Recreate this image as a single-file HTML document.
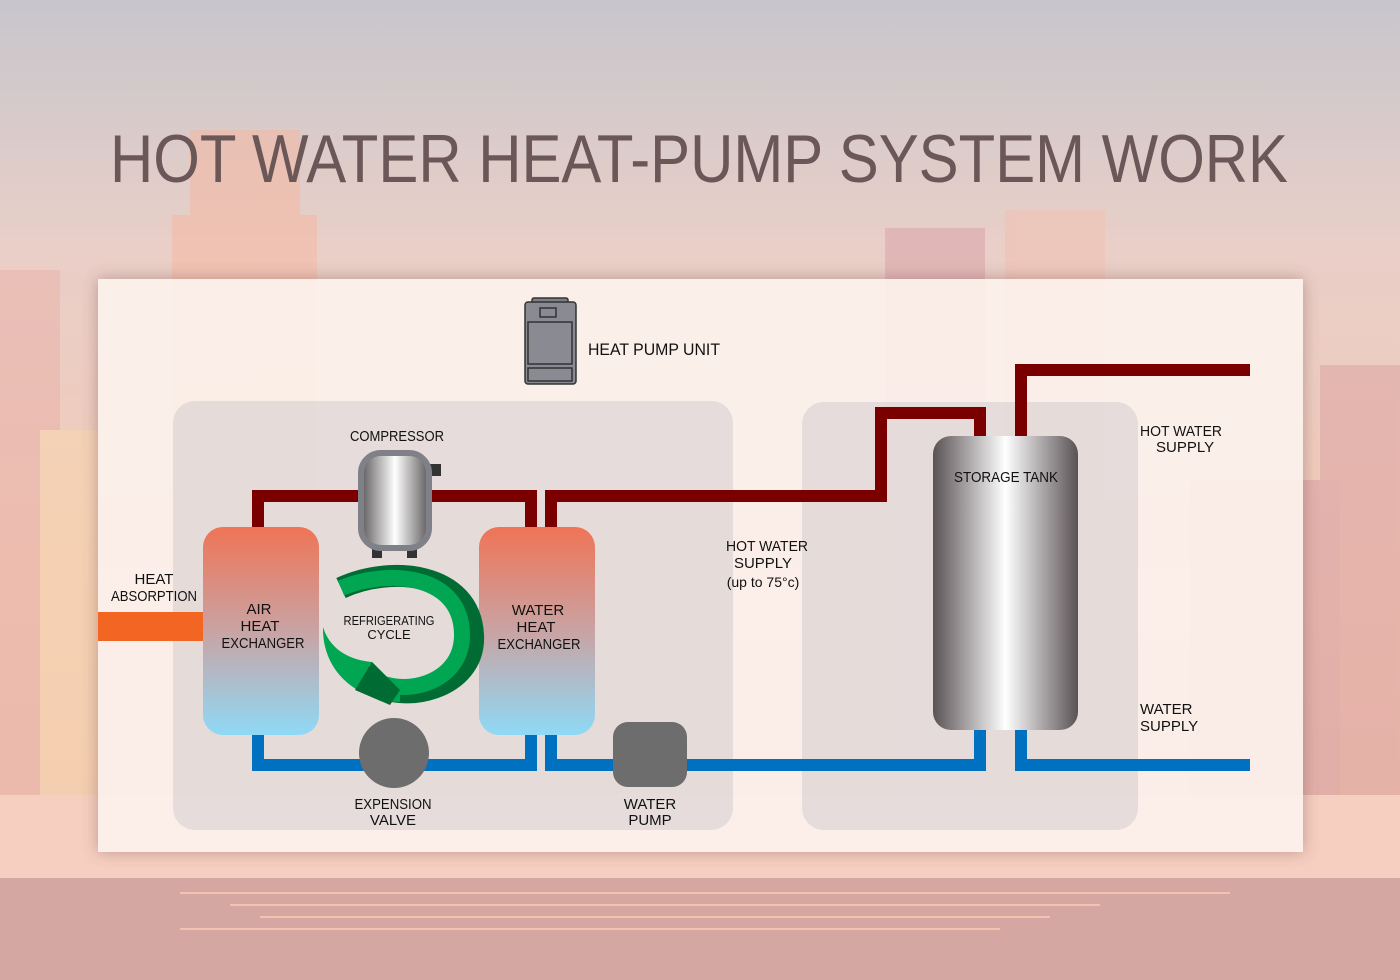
<!DOCTYPE html>
<html><head><meta charset="utf-8"><style>
html,body{margin:0;padding:0;width:1400px;height:980px;overflow:hidden}
svg{display:block}
text{font-family:"Liberation Sans",sans-serif;fill:#111}
</style></head><body>
<svg width="1400" height="980" viewBox="0 0 1400 980" xmlns="http://www.w3.org/2000/svg">
<defs>
<linearGradient id="bg" x1="0" y1="0" x2="0" y2="1">
<stop offset="0" stop-color="#c7c6cc"/><stop offset="0.25" stop-color="#e9cfc8"/><stop offset="0.6" stop-color="#f3c9b6"/><stop offset="0.85" stop-color="#f0c4b0"/><stop offset="1" stop-color="#e8b8a8"/>
</linearGradient>
<linearGradient id="hx" x1="0" y1="0" x2="0" y2="1">
<stop offset="0" stop-color="#ef7456"/><stop offset="0.5" stop-color="#c9a3a3"/><stop offset="1" stop-color="#8fd9f6"/>
</linearGradient>
<linearGradient id="metal" x1="0" y1="0" x2="1" y2="0">
<stop offset="0" stop-color="#5e5a5c"/><stop offset="0.5" stop-color="#ffffff"/><stop offset="1" stop-color="#5e5a5c"/>
</linearGradient>
<linearGradient id="metal2" x1="0" y1="0" x2="1" y2="0">
<stop offset="0" stop-color="#5a5255"/><stop offset="0.5" stop-color="#fff"/><stop offset="1" stop-color="#5a5255"/>
</linearGradient>
<filter id="sh" x="-5%" y="-5%" width="110%" height="110%"><feDropShadow dx="0" dy="0" stdDeviation="8" flood-color="#7a5050" flood-opacity="0.5"/></filter>
</defs>
<rect width="1400" height="980" fill="url(#bg)"/>
<g opacity="0.5">
<rect x="172" y="215" width="145" height="590" fill="#f6b79f"/>
<rect x="190" y="130" width="110" height="90" fill="#f6b79f"/>
<rect x="0" y="270" width="60" height="540" fill="#e9b0a8"/>
<rect x="40" y="430" width="60" height="380" fill="#f9d8b0"/>
<rect x="885" y="228" width="100" height="580" fill="#d9a0a5"/>
<rect x="1005" y="210" width="100" height="600" fill="#f2bfb0"/>
<rect x="1320" y="365" width="80" height="440" fill="#dba0a0"/>
<rect x="1190" y="480" width="150" height="330" fill="#d59aa0"/>
</g>
<rect x="0" y="795" width="1400" height="85" fill="#f6cfc0"/>
<rect x="0" y="878" width="1400" height="102" fill="#d5a7a3"/>
<g stroke="#f3c3b0" stroke-width="2">
<line x1="180" y1="893" x2="1230" y2="893"/><line x1="230" y1="905" x2="1100" y2="905"/><line x1="260" y1="917" x2="1050" y2="917"/><line x1="180" y1="929" x2="1000" y2="929"/>
</g>
<text x="110" y="182" font-size="68" textLength="1178" lengthAdjust="spacingAndGlyphs" style="fill:#6b5757;font-weight:300">HOT WATER HEAT-PUMP SYSTEM WORK</text>
<rect x="98" y="279" width="1205" height="573" fill="#fdf3ee" opacity="0.9" filter="url(#sh)"/>
<rect x="173" y="401" width="560" height="429" rx="22" fill="#dcd4d4" opacity="0.7"/>
<rect x="802" y="402" width="336" height="428" rx="22" fill="#dcd4d4" opacity="0.7"/>
<g stroke="#333" stroke-width="1.5">
<rect x="532" y="298" width="36" height="6" rx="2" fill="#7e7e86"/>
<rect x="525" y="302" width="51" height="82" rx="3" fill="#8a8a92"/>
<rect x="528" y="322" width="44" height="42" fill="#8a8a92"/>
<rect x="528" y="368" width="44" height="13" fill="#8a8a92"/>
<rect x="540" y="308" width="16" height="9" fill="#8a8a92"/>
</g>
<text x="588" y="355" font-size="17" textLength="132" lengthAdjust="spacingAndGlyphs">HEAT PUMP UNIT</text>
<g fill="none" stroke="#7a0000" stroke-width="12">
<path d="M258,528 V496 H365"/>
<path d="M425,496 H531 V528"/>
<path d="M551,528 V496 H881 V413 H980 V438"/>
<path d="M1021,438 V370 H1250"/>
</g>
<g fill="none" stroke="#0070c0" stroke-width="12">
<path d="M258,733 V765 H531 V733"/>
<path d="M551,733 V765 H980 V728"/>
<path d="M1021,728 V765 H1250"/>
</g>
<rect x="98" y="612" width="106" height="29" fill="#f26522"/>
<g font-size="15" text-anchor="middle">
<text x="154" y="584">HEAT</text>
<text x="154" y="601" textLength="86" lengthAdjust="spacingAndGlyphs">ABSORPTION</text>
</g>
<rect x="203" y="527" width="116" height="208" rx="20" fill="url(#hx)"/>
<rect x="479" y="527" width="116" height="208" rx="20" fill="url(#hx)"/>
<g font-size="15" text-anchor="middle">
<text x="259" y="614">AIR</text><text x="260" y="631">HEAT</text><text x="263" y="648" textLength="83" lengthAdjust="spacingAndGlyphs">EXCHANGER</text>
<text x="538" y="615">WATER</text><text x="536" y="632">HEAT</text><text x="539" y="649" textLength="83" lengthAdjust="spacingAndGlyphs">EXCHANGER</text>
</g>
<rect x="372" y="546" width="10" height="12" fill="#333"/>
<rect x="407" y="546" width="10" height="12" fill="#333"/>
<rect x="429" y="464" width="12" height="12" fill="#333"/>
<rect x="361" y="453" width="68" height="95" rx="20" fill="url(#metal)" stroke="#808088" stroke-width="6"/>
<text x="397" y="441" font-size="15" text-anchor="middle" textLength="94" lengthAdjust="spacingAndGlyphs">COMPRESSOR</text>
<path d="M341,588 C390,565 470,572 473,635 C476,690 400,705 372,682" fill="none" stroke="#006b32" stroke-width="22"/>
<path d="M341,588 C390,568 462,575 462,635 C462,685 400,698 372,678" fill="none" stroke="#00a651" stroke-width="16"/>
<path d="M323,627 C322,670 355,700 400,702 L400,690 L372,662 C350,660 330,650 323,627 Z" fill="#00a651"/>
<path d="M372,662 L400,690 L390,705 L355,690 Z" fill="#006b32"/>
<text x="389" y="625" font-size="13" text-anchor="middle" textLength="91" lengthAdjust="spacingAndGlyphs">REFRIGERATING</text>
<text x="389" y="639" font-size="13" text-anchor="middle">CYCLE</text>
<circle cx="394" cy="753" r="35" fill="#6d6d6d"/>
<rect x="613" y="722" width="74" height="65" rx="15" fill="#6d6d6d"/>
<g font-size="15" text-anchor="middle">
<text x="393" y="809" textLength="77" lengthAdjust="spacingAndGlyphs">EXPENSION</text><text x="393" y="825">VALVE</text>
<text x="650" y="809">WATER</text><text x="650" y="825">PUMP</text>
<text x="767" y="551" textLength="82" lengthAdjust="spacingAndGlyphs">HOT WATER</text><text x="763" y="568">SUPPLY</text>
<text x="763" y="587" font-size="14">(up to 75°c)</text>
</g>
<rect x="933" y="436" width="145" height="294" rx="18" fill="url(#metal2)"/>
<text x="1006" y="482" font-size="15" text-anchor="middle" textLength="104" lengthAdjust="spacingAndGlyphs">STORAGE TANK</text>
<g font-size="15">
<text x="1140" y="436" textLength="82" lengthAdjust="spacingAndGlyphs">HOT WATER</text><text x="1156" y="452">SUPPLY</text>
<text x="1140" y="714">WATER</text><text x="1140" y="731">SUPPLY</text>
</g>
</svg>
</body></html>
